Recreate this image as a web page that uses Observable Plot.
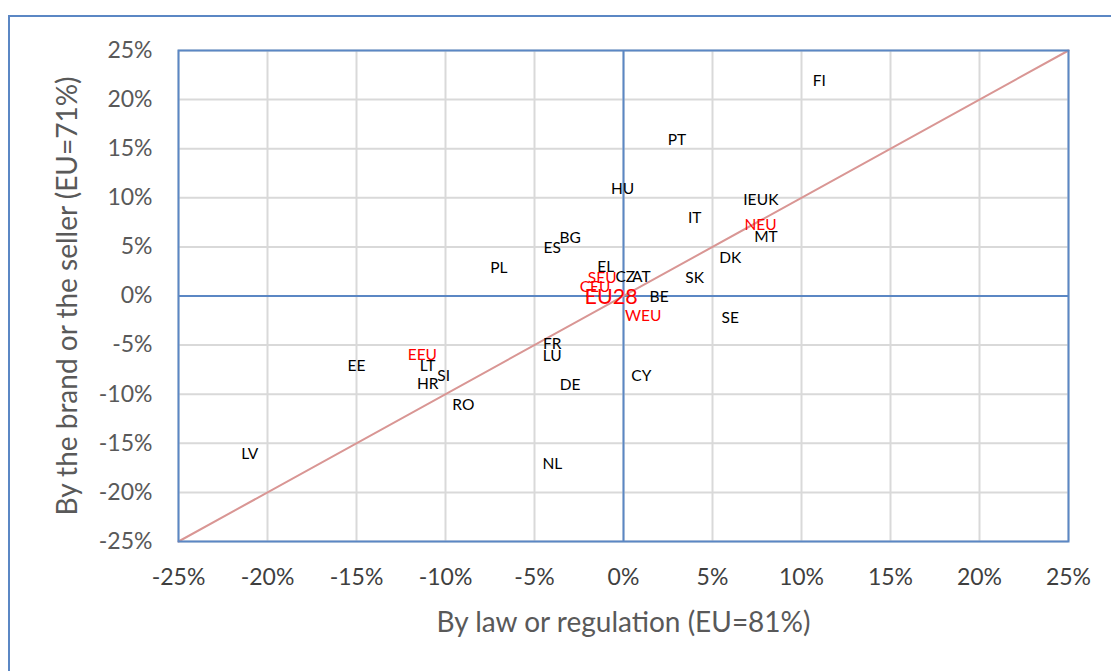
<!DOCTYPE html>
<html>
<head>
<meta charset="utf-8">
<script src="https://cdn.jsdelivr.net/npm/d3@7"></script>
<script src="https://cdn.jsdelivr.net/npm/@observablehq/plot@0.6"></script>
<style>
  html, body { margin: 0; padding: 0; background: #fff; overflow: hidden; }
  #wrap { position: relative; width: 1111px; height: 671px; }
  #outer { position: absolute; left: 8px; top: 15px; width: 1200px; height: 800px;
           border-top: 2px solid #5b87c4; border-left: 2px solid #5b87c4; pointer-events: none; }
  #chart { position: absolute; left: 0; top: 0; }
</style>
</head>
<body>
<div id="wrap"><div id="outer"></div><div id="chart"></div></div>
<script>
// Countries (black labels)
const countries = ["FI","PT","HU","IE","UK","IT","MT","DK","ES","BG","PL","EL","CZ","AT","SK","BE","SE","FR","LU","DE","CY","EE","LT","SI","HR","RO","LV","NL"];
const lawX =      [11.0, 3.0, -0.05, 7.1, 8.1, 4.0, 8.0, 6.0, -4.0, -3.0, -7.0, -1.0, 0.1, 1.0, 4.0, 2.0, 6.0, -4.0, -4.0, -3.0, 1.0, -15.0, -11.0, -10.1, -11.0, -9.0, -21.0, -4.0];
const brandY =    [21.9, 15.9, 10.9, 9.8, 9.8, 7.9, 6.0, 3.9, 4.9, 5.9, 2.8, 2.9, 1.9, 1.9, 1.8, -0.1, -2.2, -4.9, -6.1, -9.1, -8.2, -7.1, -7.1, -8.1, -9.0, -11.1, -16.1, -17.1];

// Regions (red labels)
const regions = ["NEU","SEU","CEU","WEU","EEU"];
const regionX = [7.7, -1.2, -1.6, 1.1, -11.3];
const regionY = [7.2, 1.8, 0.9, -2.0, -6.0];

// EU28 total
const totalLabel = ["EU28"];
const totalX = [-0.7];
const totalY = [-0.15];

// Axis ticks and diagonal reference
const ticks = [-25,-20,-15,-10,-5,0,5,10,15,20,25];
const diagonal = [[-25,-25],[25,25]];
const xTitle = "By law or regulation (EU=81%)";
const yTitle = "By the brand or the seller (EU=71%)";

const countryData = countries.map((c,i)=>({name:c, x:lawX[i], y:brandY[i]}));
const regionData = regions.map((c,i)=>({name:c, x:regionX[i], y:regionY[i]}));
const totalData = totalLabel.map((c,i)=>({name:c, x:totalX[i], y:totalY[i]}));

const font = "Lato, 'Open Sans', sans-serif";
const blue = "#5b87c4";

const plot = Plot.plot({
  width: 1111,
  height: 671,
  marginLeft: 178,
  marginRight: 43,
  marginTop: 50,
  marginBottom: 130,
  style: { fontFamily: font, background: "transparent", overflow: "visible" },
  x: { domain: [-25,25], nice: false },
  y: { domain: [-25,25], nice: false },
  marks: [
    Plot.gridX(ticks, { stroke: "#d9d9d9", strokeOpacity: 1, strokeWidth: 2 }),
    Plot.gridY(ticks, { stroke: "#d9d9d9", strokeOpacity: 1, strokeWidth: 2 }),
    Plot.ruleX([0], { stroke: blue, strokeWidth: 2 }),
    Plot.ruleY([0], { stroke: blue, strokeWidth: 2 }),
    Plot.line(diagonal, { x: d=>d[0], y: d=>d[1], stroke: "#d99694", strokeWidth: 2 }),
    Plot.frame({ stroke: blue, strokeWidth: 2 }),
    Plot.axisX(ticks, { tickFormat: d=>d+"%", tickSize: 0, tickPadding: 27, fontSize: 23, color: "#3f3f3f", label: null }),
    Plot.axisY(ticks, { tickFormat: d=>d+"%", tickSize: 0, tickPadding: 26, fontSize: 23, color: "#595959", label: null }),
    Plot.text([xTitle], { text: d=>d, frameAnchor: "bottom", dy: 90, fontSize: 28, fill: "#595959" }),
    Plot.text([yTitle], { text: d=>d, frameAnchor: "left", textAnchor: "middle", dx: -110, rotate: -90, fontSize: 28, fill: "#595959" }),
    Plot.text(countryData, { x: "x", y: "y", text: "name", fontSize: 15.5, fill: "#000" }),
    Plot.text(regionData, { x: "x", y: "y", text: "name", fontSize: 15.5, fill: "#ff0000" }),
    Plot.text(totalData, { x: "x", y: "y", text: "name", fontSize: 21.5, fill: "#ff0000" })
  ]
});
document.getElementById("chart").appendChild(plot);
</script>
</body>
</html>
